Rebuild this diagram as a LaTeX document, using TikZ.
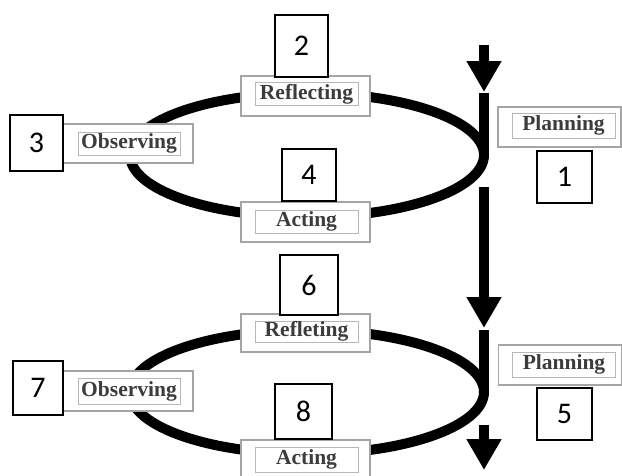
\documentclass[tikz,border=0pt]{standalone}
\usepackage{fontspec}
\setmainfont{Liberation Serif}
\newfontfamily\numfont{Carlito}
\usepackage{tikz}
\usetikzlibrary{arrows.meta}
\definecolor{boxgray}{RGB}{165,165,165}
\definecolor{txtgray}{RGB}{60,60,60}

\begin{document}
\begin{tikzpicture}[
  x=1pt, y=-1pt,
  loop/.style={line width=10pt, black},
  flow/.style={line width=10pt, black, -{Triangle[length=31pt,width=33pt]}},
  lblout/.style={
    draw=boxgray,
    fill=white,
    line width=1.4pt,
    minimum width=129pt,
    minimum height=40pt
  },
  lbltxt/.style={
    draw=boxgray!80,
    line width=.9pt,
    minimum width=103pt,
    minimum height=23pt,
    inner sep=0pt,
    text=txtgray,
    font=\fontsize{21.5}{24}\selectfont\bfseries
  },
  numbox/.style={
    draw=black,
    fill=white,
    line width=1.6pt,
    inner sep=0pt,
    font=\numfont\fontsize{30}{32}\selectfont
  }
]
\useasboundingbox (0,0) rectangle (622,475);

% the two loops
\draw[loop] (307,155) ellipse [x radius=177, y radius=62];
\draw[loop] (307,392) ellipse [x radius=177, y radius=62];

% flow down the right side
\coordinate (a0) at (484,45);
\coordinate (a1) at (484,92);
\coordinate (b0) at (484,93);
\coordinate (b1) at (484,155);
\coordinate (c0) at (484,187);
\coordinate (c1) at (484,328);
\coordinate (d0) at (484,330);
\coordinate (d1) at (484,392);
\coordinate (e0) at (484,425);
\coordinate (e1) at (484,470);
\draw[flow] (a0) -- (a1);
\draw[loop] (b0) -- (b1);
\draw[flow] (c0) -- (c1);
\draw[loop] (d0) -- (d1);
\draw[flow] (e0) -- (e1);

% first cycle
\node[lblout] (refl1) at (305.5,96) {};
\node[lbltxt] (refl1t) at (306.5,94) {Reflecting};
\node[lblout,minimum width=130pt,minimum height=39pt] (obs1) at (128,143.5) {};
\node[lbltxt,minimum width=102pt] (obs1t) at (129,143.5) {Observing};
\node[lblout] (act1) at (305.5,222) {};
\node[lbltxt] (act1t) at (306.5,221.5) {Acting};
\node[lblout,minimum width=123pt] (plan1) at (559.5,127) {};
\node[lbltxt,minimum height=25pt] (plan1t) at (563.5,125.5) {Planning};

% second cycle
\node[lblout,minimum height=38pt] (refl2) at (305.5,333) {};
\node[lbltxt,minimum height=21pt] (refl2t) at (306.5,331.5) {Refleting};
\node[lblout,minimum width=130pt] (obs2) at (128,391) {};
\node[lbltxt,minimum width=102pt,minimum height=26pt] (obs2t) at (129,391) {Observing};
\node[lblout] (act2) at (305.5,460) {};
\node[lbltxt,minimum height=25pt] (act2t) at (306.5,459.5) {Acting};
\node[lblout,minimum width=123pt] (plan2) at (560,365) {};
\node[lbltxt,minimum height=25pt] (plan2t) at (564,364.5) {Planning};

% step numbers
\node[numbox,minimum width=55pt,minimum height=52pt] (n1) at (564.5,177) {1};
\node[numbox,minimum width=53pt,minimum height=62pt] (n2) at (301.5,46) {2};
\node[numbox,minimum width=53pt,minimum height=56pt] (n3) at (36.5,143) {3};
\node[numbox,minimum width=54pt,minimum height=52pt] (n4) at (309,175) {4};
\node[numbox,minimum width=55pt,minimum height=52pt] (n5) at (564.5,414) {5};
\node[numbox,minimum width=58pt,minimum height=60pt] (n6) at (309,285) {6};
\node[numbox,minimum width=50pt,minimum height=54pt] (n7) at (38,388) {7};
\node[numbox,minimum width=57pt,minimum height=55pt] (n8) at (303.5,411.5) {8};
\end{tikzpicture}
\end{document}
